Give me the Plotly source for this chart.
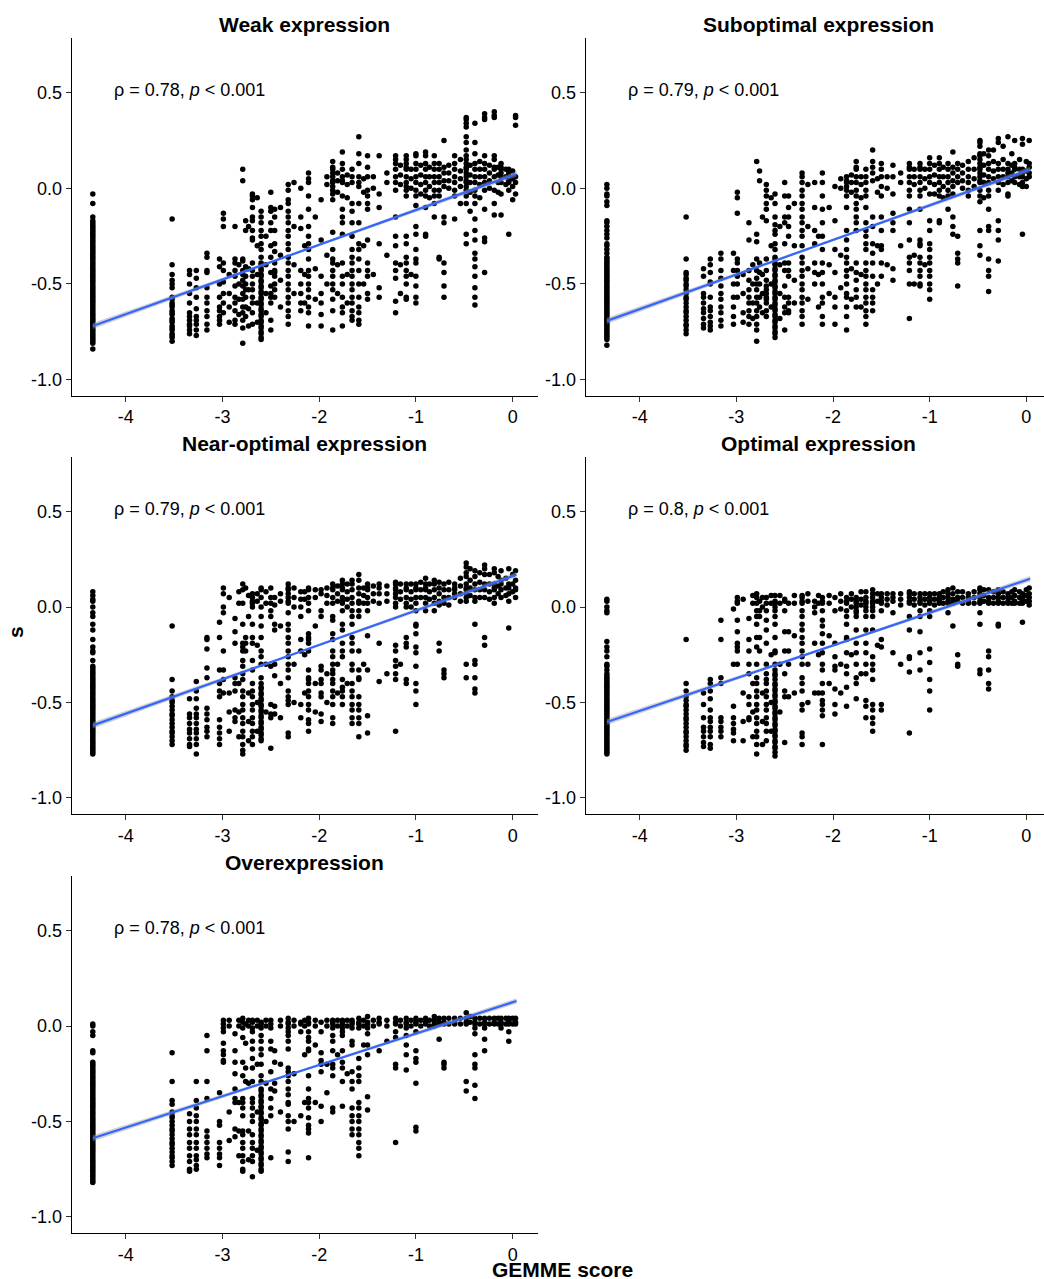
import plotly.graph_objects as go

# ---------------- data ----------------
gemme_columns = [-4.34, -3.52, -3.34, -3.27, -3.16, -3.03, -2.99, -2.87, -2.79, -2.76,
                 -2.69, -2.60, -2.50, -2.46, -2.32, -2.19, -2.11, -1.98, -1.86, -1.76,
                 -1.66, -1.59, -1.50, -1.38, -1.21, -1.10, -1.00, -0.90, -0.81, -0.76,
                 -0.71, -0.60, -0.48, -0.39, -0.29, -0.19, -0.12, -0.04, 0.03]

# further GEMME positions filling the clouds between the main columns
extra_columns = [-2.93, -2.83, -2.73, -2.64, -2.55, -2.40, -2.26, -2.15, -2.04, -1.92,
                 -1.81, -1.71, -1.54, -1.44, -1.30, -1.16, -1.05, -0.95, -0.86, -0.66,
                 -0.54, -0.44, -0.34, -0.24, -0.15, -0.07, 0.00]

weak_s = [
    [-0.03,-0.08,-0.15,-0.17,-0.18,-0.19,-0.20,-0.21,-0.22,-0.23,-0.24,-0.25,-0.26,-0.27,-0.28,-0.29,-0.30,-0.31,-0.32,-0.33,-0.34,-0.35,-0.36,-0.37,-0.38,-0.39,-0.40,-0.41,-0.42,-0.43,-0.44,-0.45,-0.46,-0.47,-0.48,-0.49,-0.50,-0.51,-0.52,-0.53,-0.54,-0.55,-0.56,-0.57,-0.58,-0.59,-0.60,-0.61,-0.62,-0.63,-0.64,-0.65,-0.66,-0.67,-0.68,-0.69,-0.70,-0.71,-0.72,-0.73,-0.74,-0.75,-0.76,-0.77,-0.78,-0.79,-0.80,-0.81,-0.84],
    [-0.16,-0.40,-0.45,-0.48,-0.50,-0.52,-0.57,-0.58,-0.60,-0.61,-0.62,-0.64,-0.65,-0.66,-0.68,-0.69,-0.70,-0.72,-0.73,-0.74,-0.76,-0.77,-0.78,-0.80],
    [-0.43,-0.45,-0.50,-0.55,-0.60,-0.65,-0.67,-0.69,-0.71,-0.72,-0.74,-0.76],
    [-0.43,-0.47,-0.52,-0.57,-0.63,-0.67,-0.69,-0.71,-0.74,-0.77],
    [-0.34,-0.36,-0.43,-0.44,-0.52,-0.57,-0.60,-0.64,-0.67,-0.71,-0.74],
    [-0.37,-0.41,-0.50,-0.57,-0.62,-0.64,-0.67,-0.69,-0.71],
    [-0.13,-0.16,-0.20,-0.39,-0.43,-0.49,-0.55,-0.60,-0.65],
    [-0.20,-0.37,-0.39,-0.43,-0.46,-0.51,-0.57,-0.60,-0.64,-0.69,-0.71],
    [0.10,0.04,-0.37,-0.38,-0.43,-0.45,-0.48,-0.51,-0.55,-0.58,-0.62,-0.65,-0.69,-0.73,-0.81],
    [-0.17,-0.22,-0.41,-0.46,-0.50,-0.53,-0.57,-0.62,-0.67],
    [-0.03,-0.04,-0.06,-0.10,-0.15,-0.17,-0.22,-0.26,-0.27,-0.39,-0.43,-0.46,-0.50,-0.53,-0.57,-0.60,-0.65,-0.71],
    [-0.12,-0.15,-0.18,-0.22,-0.25,-0.29,-0.32,-0.36,-0.39,-0.40,-0.42,-0.43,-0.45,-0.46,-0.48,-0.49,-0.51,-0.52,-0.54,-0.55,-0.57,-0.58,-0.60,-0.61,-0.63,-0.64,-0.66,-0.67,-0.69,-0.70,-0.72,-0.73,-0.75,-0.76,-0.78,-0.79],
    [-0.02,-0.10,-0.12,-0.18,-0.22,-0.30,-0.36,-0.44,-0.51,-0.55,-0.57,-0.60,-0.69,-0.74],
    [-0.11,-0.15,-0.22,-0.29,-0.33,-0.39,-0.43,-0.44,-0.46,-0.50,-0.53,-0.57],
    [0.02,-0.01,-0.06,-0.08,-0.12,-0.15,-0.18,-0.22,-0.25,-0.29,-0.32,-0.36,-0.39,-0.43,-0.46,-0.50,-0.53,-0.57,-0.60,-0.64,-0.67,-0.71],
    [0.00,-0.15,-0.21,-0.43,-0.50,-0.55,-0.60,-0.64],
    [0.08,0.05,0.03,-0.04,-0.11,-0.20,-0.25,-0.29,-0.32,-0.37,-0.43,-0.46,-0.50,-0.53,-0.57,-0.62,-0.65,-0.72],
    [-0.06,-0.27,-0.46,-0.55,-0.60,-0.66,-0.72],
    [0.14,0.11,0.10,0.08,0.06,0.04,0.03,0.01,-0.01,-0.03,-0.06,-0.23,-0.32,-0.37,-0.39,-0.43,-0.46,-0.50,-0.53,-0.58,-0.64,-0.74],
    [0.19,0.13,0.10,0.06,0.04,0.03,-0.04,-0.11,-0.15,-0.18,-0.24,-0.39,-0.46,-0.50,-0.57,-0.62,-0.65,-0.72],
    [0.10,0.06,0.03,-0.08,-0.12,-0.18,-0.25,-0.32,-0.36,-0.39,-0.43,-0.46,-0.50,-0.53,-0.57,-0.60,-0.64,-0.67,-0.69],
    [0.27,0.18,0.13,0.06,0.03,0.01,-0.08,-0.18,-0.29,-0.32,-0.37,-0.43,-0.50,-0.57,-0.62,-0.65,-0.69,-0.71],
    [0.17,0.11,0.06,-0.01,-0.04,-0.08,-0.11,-0.27,-0.39,-0.43,-0.46,-0.55,-0.58],
    [0.17,-0.03,-0.10,-0.29,-0.52,-0.57],
    [0.17,0.15,0.13,0.10,0.06,0.03,-0.01,-0.15,-0.25,-0.30,-0.39,-0.43,-0.47,-0.59,-0.65],
    [0.17,0.15,0.13,0.11,0.10,0.06,0.03,0.01,-0.01,-0.04,-0.25,-0.29,-0.36,-0.39,-0.43,-0.46,-0.50,-0.57,-0.58],
    [0.18,0.17,0.13,0.10,0.06,0.03,-0.01,-0.04,-0.09,-0.20,-0.24,-0.32,-0.37,-0.39,-0.46,-0.51,-0.57,-0.60],
    [0.19,0.17,0.13,0.10,0.06,0.03,-0.01,-0.04,-0.10,-0.24,-0.25],
    [0.17,0.13,0.10,0.06,0.03,-0.01,-0.04,-0.08,-0.15],
    [0.13,0.10,0.06,0.03,-0.01,-0.04,-0.36,-0.37],
    [0.25,0.11,0.08,0.04,0.01,-0.15,-0.18,-0.39,-0.44,-0.51,-0.57],
    [0.17,0.13,0.10,0.06,0.03,-0.01,-0.04,-0.16],
    [0.37,0.36,0.34,0.32,0.27,0.24,0.20,0.17,0.15,0.13,0.11,0.10,0.08,0.06,0.04,0.03,0.01,-0.01,-0.04,-0.08,-0.24,-0.29],
    [0.34,0.24,0.18,0.13,0.10,0.06,0.03,-0.01,-0.04,-0.08,-0.16,-0.22,-0.27,-0.34,-0.37,-0.41,-0.46,-0.52,-0.57,-0.61],
    [0.39,0.37,0.36,0.17,0.13,0.10,0.06,0.03,-0.01,-0.11,-0.26,-0.28,-0.44],
    [0.40,0.38,0.37,0.17,0.15,0.11,0.10,0.06,-0.01,-0.08,-0.14],
    [0.13,0.11,0.10,0.08,0.06,0.03,-0.03,-0.14],
    [0.10,0.08,0.06,0.04,0.03,-0.01,-0.24],
    [0.38,0.37,0.33,0.06,0.03,-0.03],
]
weak_extra_s = [
    [-0.45,-0.55,-0.62,-0.70], [-0.40,-0.50,-0.58,-0.66], [-0.20,-0.42,-0.53,-0.63,-0.72],
    [-0.05,-0.30,-0.45,-0.60,-0.70], [-0.25,-0.40,-0.55,-0.65], [-0.10,-0.35,-0.48,-0.62],
    [0.03,-0.20,-0.40,-0.55], [-0.30,-0.45,-0.60], [-0.15,-0.42,-0.58],
    [0.06,0.02,-0.35,-0.50], [0.08,0.04,-0.02,-0.40,-0.55], [0.07,0.02,-0.05,-0.45,-0.60],
    [0.05,-0.02,-0.30,-0.50], [0.06,0.00,-0.45], [0.08,0.03,-0.35],
    [0.12,0.07,0.02,-0.40,-0.55], [0.10,0.05,0.00,-0.45], [0.12,0.07,0.02,-0.03],
    [0.11,0.06,0.01,-0.05], [0.12,0.08,0.04,0.00], [0.15,0.09,0.05,0.01,-0.08],
    [0.12,0.07,0.03,-0.02,-0.12], [0.14,0.10,0.06,0.02,-0.05], [0.12,0.08,0.04,0.00],
    [0.11,0.07,0.03,-0.02], [0.10,0.06,0.02], [0.09,0.05,0.01,-0.06],
]

suboptimal_s = [
    [0.02,0.00,-0.03,-0.04,-0.07,-0.09,-0.17,-0.18,-0.20,-0.22,-0.24,-0.26,-0.29,-0.30,-0.32,-0.34,-0.36,-0.37,-0.38,-0.39,-0.40,-0.41,-0.42,-0.43,-0.44,-0.45,-0.46,-0.47,-0.48,-0.49,-0.50,-0.51,-0.52,-0.53,-0.54,-0.55,-0.56,-0.57,-0.58,-0.59,-0.60,-0.61,-0.62,-0.63,-0.64,-0.65,-0.66,-0.67,-0.68,-0.69,-0.70,-0.71,-0.72,-0.73,-0.74,-0.75,-0.76,-0.77,-0.78,-0.79,-0.82],
    [-0.15,-0.37,-0.44,-0.45,-0.47,-0.48,-0.50,-0.51,-0.53,-0.55,-0.57,-0.58,-0.60,-0.62,-0.64,-0.65,-0.67,-0.69,-0.71,-0.72,-0.74,-0.76],
    [-0.42,-0.46,-0.55,-0.57,-0.60,-0.63,-0.65,-0.68,-0.71,-0.73],
    [-0.37,-0.40,-0.44,-0.49,-0.50,-0.57,-0.62,-0.64,-0.67,-0.70,-0.72,-0.74],
    [-0.34,-0.37,-0.43,-0.47,-0.51,-0.55,-0.58,-0.62,-0.65,-0.69,-0.72],
    [-0.34,-0.43,-0.50,-0.57,-0.62,-0.67,-0.71],
    [-0.02,-0.05,-0.13,-0.37,-0.39,-0.43,-0.46,-0.50,-0.57],
    [-0.18,-0.27,-0.43,-0.48,-0.53,-0.57,-0.60,-0.64,-0.67,-0.71],
    [0.14,-0.24,-0.28,-0.37,-0.43,-0.47,-0.50,-0.53,-0.57,-0.60,-0.64,-0.67,-0.71,-0.74,-0.80],
    [0.09,0.04,-0.39,-0.44,-0.50,-0.57,-0.62],
    [0.02,-0.01,-0.04,-0.08,-0.11,-0.17,-0.37,-0.43,-0.48,-0.51,-0.53,-0.55,-0.57,-0.58,-0.60,-0.64,-0.67],
    [-0.03,-0.08,-0.15,-0.19,-0.22,-0.24,-0.29,-0.32,-0.36,-0.37,-0.39,-0.40,-0.42,-0.43,-0.45,-0.46,-0.48,-0.49,-0.51,-0.52,-0.54,-0.55,-0.57,-0.58,-0.60,-0.61,-0.63,-0.64,-0.66,-0.67,-0.69,-0.70,-0.72,-0.73,-0.75,-0.76,-0.78],
    [0.03,-0.04,-0.15,-0.18,-0.29,-0.39,-0.43,-0.51,-0.57,-0.62,-0.65,-0.74],
    [-0.04,-0.10,-0.15,-0.20,-0.25,-0.39,-0.43,-0.46,-0.57,-0.60,-0.64,-0.65],
    [0.08,0.06,0.03,-0.01,-0.04,-0.08,-0.11,-0.15,-0.18,-0.22,-0.25,-0.30,-0.36,-0.39,-0.43,-0.46,-0.50,-0.53,-0.57,-0.60,-0.64,-0.67,-0.71],
    [0.03,-0.10,-0.22,-0.29,-0.39,-0.44,-0.50],
    [0.08,0.03,-0.04,-0.11,-0.18,-0.25,-0.32,-0.39,-0.44,-0.50,-0.57,-0.60,-0.67,-0.71],
    [0.01,-0.17,-0.32,-0.44,-0.57,-0.62,-0.71],
    [0.06,0.04,0.03,0.01,-0.01,-0.04,-0.10,-0.22,-0.27,-0.32,-0.36,-0.39,-0.43,-0.46,-0.50,-0.55,-0.57,-0.62,-0.67,-0.74],
    [0.14,0.11,0.10,0.06,0.03,-0.01,-0.04,-0.08,-0.11,-0.15,-0.18,-0.22,-0.39,-0.44,-0.48,-0.53,-0.57,-0.62],
    [0.10,0.06,0.03,-0.01,-0.04,-0.10,-0.18,-0.22,-0.25,-0.29,-0.32,-0.39,-0.43,-0.46,-0.50,-0.53,-0.57,-0.60,-0.64,-0.67,-0.71],
    [0.20,0.14,0.11,0.08,0.04,-0.15,-0.20,-0.29,-0.34,-0.39,-0.46,-0.53,-0.57,-0.60,-0.64],
    [0.13,0.10,0.06,0.01,-0.04,-0.15,-0.22,-0.30,-0.32,-0.39,-0.46],
    [0.12,0.06,-0.03,-0.13,-0.18,-0.22,-0.42,-0.48],
    [0.13,0.11,0.10,0.06,0.03,-0.01,-0.04,-0.11,-0.18,-0.27,-0.36,-0.39,-0.43,-0.50,-0.68],
    [0.13,0.11,0.10,0.06,0.03,-0.01,-0.04,-0.11,-0.27,-0.29,-0.30,-0.36,-0.39,-0.43,-0.46,-0.50,-0.51],
    [0.16,0.13,0.10,0.06,0.03,-0.03,-0.17,-0.22,-0.29,-0.32,-0.36,-0.39,-0.43,-0.46,-0.50,-0.53,-0.58],
    [0.16,0.13,0.10,0.06,0.03,-0.01,-0.04,-0.17,-0.18],
    [0.13,0.10,0.06,0.03,-0.01,-0.04,-0.11],
    [0.19,0.11,0.08,0.04,0.01,-0.03,-0.15,-0.20,-0.24],
    [0.13,0.10,0.06,0.03,-0.25,-0.34,-0.37,-0.39,-0.51],
    [0.14,0.10,0.06,0.03,-0.01,-0.04],
    [0.25,0.24,0.22,0.18,0.17,0.15,0.13,0.11,0.10,0.08,0.06,0.04,0.03,-0.01,-0.04,-0.07,-0.22,-0.30,-0.35],
    [0.20,0.17,0.13,0.10,0.06,0.03,-0.01,-0.04,-0.11,-0.20,-0.22,-0.37,-0.43,-0.46,-0.54],
    [0.26,0.24,0.13,0.10,0.06,0.03,-0.01,-0.17,-0.22,-0.27,-0.38],
    [0.27,0.13,0.10,0.08,0.06,0.03,-0.03,-0.04],
    [0.25,0.13,0.11,0.10,0.06,0.03],
    [0.26,0.23,0.10,0.08,0.06,0.03,0.01,-0.24],
    [0.25,0.13,0.11,0.08,0.06],
]
suboptimal_extra_s = [
    [-0.45,-0.55,-0.65,-0.70], [-0.40,-0.50,-0.60,-0.68], [-0.15,-0.45,-0.55,-0.65],
    [-0.05,-0.30,-0.50,-0.62], [-0.20,-0.40,-0.55,-0.68], [-0.08,-0.30,-0.48,-0.60],
    [0.02,-0.20,-0.42,-0.58], [-0.25,-0.45,-0.62], [-0.10,-0.40,-0.55],
    [0.05,0.00,-0.35,-0.52], [0.07,0.03,-0.02,-0.42,-0.58], [0.06,0.02,-0.05,-0.45,-0.62],
    [0.05,-0.02,-0.30,-0.50], [0.06,0.00,-0.40], [0.08,0.03,-0.30],
    [0.10,0.06,0.02,-0.35,-0.50], [0.10,0.05,0.00,-0.40], [0.12,0.07,0.02,-0.03],
    [0.11,0.06,0.01,-0.05], [0.12,0.08,0.04,0.00], [0.16,0.10,0.05,0.01],
    [0.18,0.12,0.07,0.03,-0.05], [0.20,0.14,0.09,0.05], [0.22,0.15,0.10,0.06,0.02],
    [0.18,0.12,0.08,0.04], [0.15,0.10,0.06,0.02], [0.14,0.09,0.05,0.01],
]

near_optimal_s = [
    [0.08,0.06,0.04,0.03,0.00,-0.03,-0.05,-0.09,-0.12,-0.17,-0.21,-0.23,-0.24,-0.28,-0.31,-0.32,-0.33,-0.34,-0.35,-0.36,-0.37,-0.38,-0.39,-0.40,-0.41,-0.42,-0.43,-0.44,-0.45,-0.46,-0.47,-0.48,-0.49,-0.50,-0.51,-0.52,-0.53,-0.54,-0.55,-0.56,-0.57,-0.58,-0.59,-0.60,-0.61,-0.62,-0.63,-0.64,-0.65,-0.66,-0.67,-0.68,-0.69,-0.70,-0.71,-0.72,-0.73,-0.74,-0.75,-0.76,-0.77],
    [-0.10,-0.38,-0.44,-0.47,-0.49,-0.50,-0.52,-0.54,-0.56,-0.57,-0.59,-0.61,-0.63,-0.65,-0.66,-0.68,-0.70,-0.72],
    [-0.48,-0.56,-0.58,-0.61,-0.64,-0.66,-0.69,-0.72,-0.73],
    [-0.39,-0.44,-0.48,-0.53,-0.56,-0.58,-0.61,-0.64,-0.66,-0.69,-0.72,-0.77],
    [-0.16,-0.17,-0.22,-0.32,-0.37,-0.53,-0.56,-0.59,-0.63,-0.65,-0.68],
    [-0.08,-0.16,-0.33,-0.40,-0.44,-0.47,-0.59,-0.63,-0.66,-0.69,-0.72],
    [0.10,0.07,0.00,-0.03,-0.23,-0.33,-0.38,-0.45],
    [-0.06,-0.13,-0.19,-0.37,-0.40,-0.44,-0.54,-0.58,-0.60],
    [0.12,0.09,0.02,-0.09,-0.19,-0.21,-0.23,-0.28,-0.31,-0.35,-0.38,-0.44,-0.47,-0.51,-0.54,-0.58,-0.61,-0.65,-0.68,-0.72,-0.75,-0.77],
    [0.10,-0.16,-0.19,-0.23],
    [0.07,0.05,0.03,0.02,0.00,-0.09,-0.16,-0.19,-0.28,-0.33,-0.40,-0.44,-0.47,-0.51,-0.54,-0.58,-0.61,-0.65,-0.68,-0.72],
    [0.10,0.09,0.05,0.00,-0.05,-0.10,-0.16,-0.23,-0.26,-0.30,-0.37,-0.40,-0.42,-0.43,-0.45,-0.46,-0.48,-0.49,-0.51,-0.52,-0.54,-0.55,-0.57,-0.58,-0.60,-0.61,-0.63,-0.64,-0.66,-0.67,-0.69,-0.70],
    [0.10,0.05,0.02,-0.02,-0.05,-0.31,-0.51,-0.56,-0.58,-0.74],
    [0.05,0.01,-0.09,-0.12,-0.30,-0.36,-0.52,-0.56],
    [0.12,0.10,0.09,0.07,0.05,0.03,0.02,-0.03,-0.09,-0.12,-0.16,-0.19,-0.23,-0.26,-0.30,-0.33,-0.37,-0.44,-0.47,-0.49,-0.51,-0.66,-0.68],
    [0.08,0.04,0.00,-0.05,-0.17,-0.23,-0.51,-0.58],
    [0.10,0.09,0.05,0.02,-0.02,-0.14,-0.16,-0.17,-0.19,-0.23,-0.33,-0.37,-0.38,-0.40,-0.44,-0.47,-0.51,-0.54,-0.59,-0.61,-0.65],
    [0.09,0.07,-0.02,-0.05,-0.31,-0.33,-0.38,-0.40,-0.45,-0.47,-0.56,-0.60],
    [0.12,0.10,0.09,0.05,0.02,-0.05,-0.07,-0.14,-0.17,-0.23,-0.26,-0.30,-0.33,-0.35,-0.38,-0.40,-0.44,-0.47,-0.51,-0.58,-0.61],
    [0.14,0.12,0.10,0.09,0.05,0.03,0.02,-0.02,-0.09,-0.12,-0.19,-0.23,-0.26,-0.38,-0.42,-0.44,-0.47,-0.51],
    [0.14,0.12,0.09,0.05,0.02,-0.02,-0.05,-0.09,-0.16,-0.19,-0.23,-0.30,-0.33,-0.40,-0.44,-0.47,-0.51,-0.54,-0.58,-0.61],
    [0.17,0.14,0.10,0.07,0.03,0.02,-0.02,-0.05,-0.23,-0.33,-0.37,-0.38,-0.47,-0.51,-0.54,-0.58,-0.61,-0.68],
    [0.12,0.10,0.09,0.05,0.02,-0.02,-0.15,-0.33,-0.57,-0.66],
    [0.12,0.10,0.07,0.02,-0.19,-0.39],
    [0.13,0.12,0.10,0.09,0.07,0.05,0.02,0.00,-0.20,-0.23,-0.28,-0.31,-0.35,-0.38,-0.65],
    [0.12,0.10,0.09,0.05,0.02,0.00,-0.16,-0.19,-0.21,-0.38,-0.40],
    [0.12,0.10,0.09,0.05,0.02,-0.02,-0.09,-0.10,-0.14,-0.21,-0.24,-0.31,-0.40,-0.44,-0.51],
    [0.15,0.12,0.10,0.09,0.05,0.02,-0.02],
    [0.14,0.12,0.09,0.05,0.02,-0.02],
    [0.13,0.10,0.07,0.03,0.01,-0.19,-0.23],
    [0.12,0.09,0.05,0.02,-0.33,-0.35,-0.37],
    [0.12,0.10,0.09,0.07,0.05],
    [0.23,0.21,0.18,0.16,0.12,0.10,0.09,0.07,0.05,0.03,-0.30,-0.37],
    [0.19,0.16,0.12,0.09,0.05,0.03,-0.09,-0.28,-0.30,-0.37,-0.43,-0.45],
    [0.22,0.20,0.17,0.12,0.09,0.05,-0.16,-0.20],
    [0.20,0.18,0.12,0.10,0.09,0.05,0.02],
    [0.19,0.14,0.12,0.09,0.05],
    [0.20,0.12,0.10,0.07,0.03,-0.11],
    [0.19,0.14,0.10,0.09,0.05],
]
near_optimal_extra_s = [
    [0.05,-0.45,-0.55,-0.65], [0.08,0.02,-0.40,-0.55,-0.68], [0.06,-0.05,-0.45,-0.60,-0.70],
    [0.07,0.03,-0.20,-0.50,-0.65], [0.08,0.02,-0.30,-0.55], [0.07,0.03,-0.10,-0.40,-0.58],
    [0.10,0.05,0.00,-0.30,-0.50], [0.08,0.04,-0.25,-0.45], [0.09,0.05,-0.10,-0.40,-0.55],
    [0.10,0.06,0.02,-0.35,-0.50], [0.11,0.07,0.03,-0.30,-0.45], [0.12,0.08,0.04,0.00,-0.40],
    [0.10,0.06,0.02,-0.30], [0.11,0.07,0.03], [0.11,0.07,0.03,-0.35],
    [0.12,0.08,0.04,-0.30], [0.12,0.08,0.04,0.00], [0.13,0.09,0.05],
    [0.12,0.08,0.04], [0.13,0.09,0.05,0.01], [0.15,0.11,0.07,0.03],
    [0.20,0.14,0.10,0.06], [0.18,0.13,0.09,0.05], [0.17,0.12,0.08,0.04],
    [0.16,0.11,0.07], [0.15,0.10,0.06], [0.17,0.12,0.08],
]

optimal_s = [
    [0.04,0.03,0.00,-0.02,-0.03,-0.18,-0.21,-0.23,-0.26,-0.30,-0.31,-0.33,-0.35,-0.36,-0.37,-0.38,-0.39,-0.40,-0.41,-0.42,-0.43,-0.44,-0.45,-0.46,-0.47,-0.48,-0.49,-0.50,-0.51,-0.52,-0.53,-0.54,-0.55,-0.56,-0.57,-0.58,-0.59,-0.60,-0.61,-0.62,-0.63,-0.64,-0.65,-0.66,-0.67,-0.68,-0.69,-0.70,-0.71,-0.72,-0.73,-0.74,-0.75,-0.76,-0.77],
    [-0.17,-0.40,-0.44,-0.47,-0.49,-0.51,-0.52,-0.54,-0.56,-0.58,-0.59,-0.61,-0.63,-0.65,-0.66,-0.68,-0.70,-0.72,-0.73,-0.75],
    [-0.45,-0.51,-0.58,-0.63,-0.65,-0.68,-0.71,-0.73],
    [-0.38,-0.40,-0.44,-0.48,-0.54,-0.58,-0.60,-0.63,-0.65,-0.68,-0.72,-0.74],
    [-0.07,-0.17,-0.37,-0.40,-0.58,-0.60,-0.63,-0.65,-0.68],
    [-0.01,-0.30,-0.52,-0.58,-0.61,-0.64,-0.66,-0.70],
    [0.05,0.03,0.02,-0.07,-0.13,-0.19,-0.21,-0.23,-0.30],
    [-0.06,-0.17,-0.23,-0.30,-0.35,-0.47,-0.51,-0.58,-0.59],
    [0.07,0.05,0.02,-0.02,-0.05,-0.09,-0.16,-0.21,-0.30,-0.37,-0.40,-0.44,-0.47,-0.51,-0.54,-0.58,-0.61,-0.65,-0.68,-0.72,-0.77],
    [0.03,-0.02,-0.05,-0.16,-0.23],
    [0.05,0.02,-0.02,-0.07,-0.12,-0.19,-0.30,-0.35,-0.38,-0.40,-0.44,-0.47,-0.51,-0.54,-0.58,-0.61,-0.65,-0.70],
    [0.06,0.03,0.02,0.00,-0.02,-0.05,-0.09,-0.16,-0.23,-0.24,-0.30,-0.33,-0.35,-0.36,-0.38,-0.40,-0.41,-0.43,-0.44,-0.46,-0.47,-0.49,-0.50,-0.52,-0.53,-0.55,-0.56,-0.58,-0.59,-0.61,-0.62,-0.64,-0.65,-0.67,-0.68,-0.70,-0.71,-0.73,-0.74,-0.76,-0.78],
    [0.04,0.03,-0.02,-0.13,-0.23,-0.35,-0.44,-0.47,-0.71],
    [0.02,-0.13,-0.23,-0.30,-0.47],
    [0.06,0.05,0.03,0.02,-0.02,-0.05,-0.09,-0.12,-0.16,-0.19,-0.23,-0.26,-0.30,-0.37,-0.40,-0.44,-0.51,-0.54,-0.66,-0.68,-0.72],
    [0.03,0.00,-0.03,-0.19,-0.45],
    [0.05,0.03,0.02,-0.02,-0.07,-0.10,-0.14,-0.19,-0.24,-0.30,-0.33,-0.40,-0.45,-0.49,-0.51,-0.54,-0.57,-0.72],
    [0.05,-0.02,-0.19,-0.26,-0.31,-0.33,-0.43,-0.51,-0.56],
    [0.05,0.03,0.02,-0.02,-0.05,-0.09,-0.16,-0.17,-0.24,-0.31,-0.35,-0.42,-0.52],
    [0.05,0.03,0.02,0.00,-0.02,-0.03,-0.05,-0.12,-0.19,-0.24,-0.30,-0.37,-0.40,-0.48],
    [0.08,0.05,0.03,0.02,0.00,-0.02,-0.05,-0.12,-0.19,-0.24,-0.30,-0.35,-0.49,-0.52,-0.58],
    [0.09,0.07,0.05,0.03,0.02,0.00,-0.02,-0.05,-0.12,-0.26,-0.30,-0.33,-0.38,-0.51,-0.54,-0.58,-0.61,-0.65],
    [0.07,0.05,0.03,0.02,-0.02,-0.17,-0.21,-0.51,-0.54],
    [0.07,0.05,0.03,-0.03,-0.24],
    [0.08,0.07,0.05,0.03,0.02,-0.05,-0.12,-0.26,-0.27,-0.34,-0.66],
    [0.07,0.05,0.03,0.02,-0.02,-0.05,-0.13,-0.24,-0.33],
    [0.07,0.05,0.03,0.02,-0.02,-0.05,-0.22,-0.29,-0.38,-0.44,-0.54],
    [0.07,0.05,0.03,0.02],
    [0.09,0.07,0.05,0.03,0.02,-0.03],
    [0.10,0.07,0.04,0.02,-0.10],
    [0.08,0.05,0.03,-0.25,-0.30,-0.31],
    [0.07,0.05,0.03,0.02],
    [0.10,0.09,0.07,0.05,0.03,0.02,-0.03,-0.09,-0.33,-0.35],
    [0.09,0.05,0.03,0.02,-0.23,-0.26,-0.33,-0.40,-0.43],
    [0.09,0.07,0.05,0.03,0.02,-0.09,-0.10],
    [0.07,0.05,0.03,0.02],
    [0.09,0.06,0.03,0.02],
    [0.07,0.05,0.03,0.02,-0.08],
    [0.10,0.07,0.05,0.03,0.01],
]
optimal_extra_s = [
    [0.04,-0.45,-0.60,-0.70], [0.06,0.02,-0.40,-0.55,-0.68], [0.05,0.00,-0.45,-0.60,-0.72],
    [0.06,0.02,-0.25,-0.50,-0.65], [0.06,0.02,-0.30,-0.55], [0.06,0.02,-0.15,-0.45],
    [0.07,0.03,-0.30,-0.50], [0.06,0.02,-0.25,-0.45], [0.06,0.02,-0.15,-0.40],
    [0.07,0.03,-0.01,-0.30,-0.45], [0.07,0.04,0.00,-0.25], [0.08,0.04,0.01,-0.35],
    [0.07,0.03,-0.20], [0.07,0.04,0.01], [0.07,0.04,0.01,-0.30],
    [0.07,0.04,0.01], [0.07,0.04,0.01], [0.07,0.04,0.01],
    [0.08,0.05,0.02], [0.08,0.05,0.02], [0.08,0.05,0.02],
    [0.09,0.06,0.03], [0.08,0.05,0.02], [0.08,0.05,0.02],
    [0.08,0.05,0.02], [0.08,0.05,0.02], [0.09,0.06,0.03],
]

overexpression_s = [
    [0.01,0.00,-0.03,-0.05,-0.13,-0.14,-0.19,-0.20,-0.21,-0.22,-0.23,-0.24,-0.25,-0.26,-0.27,-0.28,-0.29,-0.30,-0.31,-0.32,-0.33,-0.34,-0.35,-0.36,-0.37,-0.38,-0.39,-0.40,-0.41,-0.42,-0.43,-0.44,-0.45,-0.46,-0.47,-0.48,-0.49,-0.50,-0.51,-0.52,-0.53,-0.54,-0.55,-0.56,-0.57,-0.58,-0.59,-0.60,-0.61,-0.62,-0.63,-0.64,-0.65,-0.66,-0.67,-0.68,-0.69,-0.70,-0.71,-0.72,-0.73,-0.74,-0.75,-0.76,-0.77,-0.78,-0.79,-0.80,-0.81,-0.82],
    [-0.14,-0.29,-0.39,-0.41,-0.45,-0.47,-0.48,-0.50,-0.52,-0.54,-0.55,-0.57,-0.59,-0.61,-0.62,-0.64,-0.66,-0.68,-0.69,-0.71,-0.73],
    [-0.46,-0.50,-0.54,-0.57,-0.61,-0.64,-0.68,-0.71,-0.75,-0.76],
    [-0.29,-0.39,-0.43,-0.47,-0.50,-0.54,-0.57,-0.61,-0.64,-0.68,-0.70,-0.73,-0.75],
    [-0.05,-0.13,-0.29,-0.38,-0.55,-0.58,-0.61,-0.64,-0.67,-0.69],
    [-0.35,-0.50,-0.52,-0.61,-0.64,-0.67,-0.69,-0.73],
    [0.03,0.01,-0.01,-0.03,-0.09,-0.13,-0.15,-0.18,-0.19],
    [-0.04,-0.13,-0.19,-0.25,-0.33,-0.38,-0.40,-0.54,-0.58],
    [0.04,0.02,-0.01,-0.06,-0.19,-0.26,-0.38,-0.40,-0.43,-0.47,-0.55,-0.57,-0.61,-0.64,-0.68,-0.71,-0.75,-0.76],
    [0.01,-0.09,-0.22,-0.29],
    [0.03,0.02,-0.01,-0.03,-0.08,-0.12,-0.17,-0.22,-0.29,-0.38,-0.40,-0.43,-0.47,-0.50,-0.57,-0.61,-0.64,-0.68,-0.71,-0.79],
    [0.02,0.01,-0.01,-0.05,-0.08,-0.12,-0.15,-0.20,-0.26,-0.29,-0.33,-0.34,-0.36,-0.37,-0.39,-0.40,-0.42,-0.43,-0.45,-0.46,-0.48,-0.49,-0.51,-0.52,-0.54,-0.55,-0.57,-0.58,-0.60,-0.61,-0.63,-0.64,-0.66,-0.67,-0.69,-0.70,-0.72,-0.73,-0.75,-0.76],
    [0.03,0.01,-0.01,-0.08,-0.12,-0.24,-0.33,-0.38,-0.43,-0.47,-0.69],
    [-0.13,-0.19,-0.30,-0.34],
    [0.04,0.02,0.01,-0.01,-0.03,-0.05,-0.08,-0.12,-0.22,-0.24,-0.26,-0.29,-0.33,-0.36,-0.40,-0.41,-0.47,-0.50,-0.54,-0.66,-0.71],
    [0.02,0.01,-0.03,-0.47],
    [0.04,0.02,0.01,-0.03,-0.06,-0.08,-0.12,-0.13,-0.26,-0.33,-0.38,-0.40,-0.43,-0.48,-0.52,-0.54,-0.56,-0.69],
    [0.02,-0.03,-0.14,-0.18,-0.20,-0.24,-0.42,-0.50],
    [0.03,0.02,0.01,-0.01,-0.05,-0.08,-0.13,-0.20,-0.22,-0.26,-0.43,-0.45],
    [0.03,0.02,0.01,-0.01,-0.03,-0.05,-0.13,-0.19,-0.22,-0.29,-0.42],
    [0.03,0.02,0.01,-0.01,-0.08,-0.10,-0.24,-0.29,-0.33,-0.43,-0.47,-0.50,-0.54,-0.57],
    [0.04,0.02,0.01,-0.01,-0.17,-0.22,-0.26,-0.29,-0.40,-0.43,-0.47,-0.50,-0.54,-0.57,-0.61,-0.64,-0.68],
    [0.05,0.02,0.01,-0.01,-0.04,-0.10,-0.15,-0.37,-0.44],
    [0.04,0.02,0.01,-0.13],
    [0.04,0.02,0.01,-0.03,-0.06,-0.20,-0.22,-0.61],
    [0.04,0.02,0.01,-0.01,-0.05,-0.10,-0.15,-0.23],
    [0.04,0.02,0.01,-0.03,-0.13,-0.17,-0.19,-0.30,-0.53,-0.55],
    [0.04,0.02,0.01],
    [0.05,0.03,0.01,0.00],
    [0.04,0.02,0.01,-0.07],
    [0.04,0.02,0.01,-0.19,-0.20,-0.22],
    [0.04,0.02,0.01],
    [0.07,0.04,0.02,0.01,-0.29,-0.34],
    [0.04,0.02,0.01,-0.01,-0.04,-0.15,-0.20,-0.22,-0.31,-0.38],
    [0.04,0.02,0.01,-0.01,-0.07,-0.13],
    [0.04,0.02,0.01],
    [0.04,0.02,0.01,-0.01],
    [0.04,0.03,0.02,0.01,-0.03,-0.08],
    [0.04,0.02,0.01],
]
overexpression_extra_s = [
    [0.03,0.00,-0.45,-0.60], [0.03,0.00,-0.40,-0.55,-0.68], [0.03,0.00,-0.30,-0.55,-0.70],
    [0.03,0.00,-0.20,-0.45,-0.65], [0.03,0.00,-0.30,-0.50], [0.03,0.00,-0.20,-0.45],
    [0.03,0.00,-0.25,-0.50], [0.03,0.00,-0.15,-0.40], [0.03,0.00,-0.10,-0.40],
    [0.03,0.00,-0.20,-0.35], [0.03,0.00,-0.15], [0.03,0.00,-0.25],
    [0.03,0.00,-0.10], [0.03,0.00], [0.03,0.00,-0.08],
    [0.03,0.00], [0.03,0.00], [0.03,0.00],
    [0.03,0.00], [0.04,0.01], [0.04,0.01],
    [0.05,0.02], [0.04,0.01], [0.04,0.01],
    [0.04,0.01], [0.04,0.01], [0.04,0.01],
]

panel_titles = ["Weak expression", "Suboptimal expression", "Near-optimal expression",
                "Optimal expression", "Overexpression"]
panel_rho = ["0.78", "0.79", "0.79", "0.8", "0.78"]
panel_values = [weak_s, suboptimal_s, near_optimal_s, optimal_s, overexpression_s]
panel_extra_values = [weak_extra_s, suboptimal_extra_s, near_optimal_extra_s,
                      optimal_extra_s, overexpression_extra_s]

# linear-fit line: s at the two ends of the GEMME span
fit_x = [-4.34, 0.04]
fit_s = [[-0.72, 0.075], [-0.693, 0.099], [-0.62, 0.169], [-0.602, 0.148], [-0.588, 0.131]]
band_halfwidth = [0.016, 0.006, 0.014]   # at left end, centre, right end

x_tickvals = [-4, -3, -2, -1, 0]
x_ticktext = ["-4", "-3", "-2", "-1", "0"]
y_tickvals = [-1.0, -0.5, 0.0, 0.5]
y_ticktext = ["-1.0", "-0.5", "0.0", "0.5"]

# ---------------- layout geometry ----------------
W, H = 1044, 1279
col_dom = [[71.7 / W, 538 / W], [585.7 / W, 1.0]]
row_dom = [[1 - 395.7 / H, 1 - 38.3 / H], [1 - 814 / H, 1 - 457.3 / H], [1 - 1233 / H, 1 - 876.3 / H]]
x_ranges = [[-4.558, 0.262], [-4.559, 0.183]]
y_range = [-1.084, 0.784]
title_centers = [(71.7 + 538) / 2 / W, (585.7 + 1051) / 2 / W]

FONT = "Liberation Sans, Arial, Helvetica, sans-serif"

fig = go.Figure()
annotations = []
layout_axes = {}

for i in range(5):
    r, c = divmod(i, 2)
    ax = "" if i == 0 else str(i + 1)
    xs, ys = [], []
    for cols, vals in ((gemme_columns, panel_values[i]), (extra_columns, panel_extra_values[i])):
        for gx, col in zip(cols, vals):
            for v in col:
                xs.append(gx)
                ys.append(v)
    fig.add_trace(go.Scatter(x=xs, y=ys, mode="markers", xaxis="x" + ax, yaxis="y" + ax,
                             marker=dict(color="black", size=5.5, line=dict(width=0)),
                             showlegend=False, hoverinfo="skip"))
    # confidence band + fitted line
    x0, x1 = fit_x
    y0, y1 = fit_s[i]
    bx = [x0, (x0 + x1) / 2, x1]
    by = [y0, (y0 + y1) / 2, y1]
    upper = [b + h for b, h in zip(by, band_halfwidth)]
    lower = [b - h for b, h in zip(by, band_halfwidth)]
    fig.add_trace(go.Scatter(x=bx + bx[::-1], y=upper + lower[::-1], fill="toself",
                             fillcolor="rgba(153,153,153,0.45)", line=dict(width=0),
                             mode="lines", xaxis="x" + ax, yaxis="y" + ax,
                             showlegend=False, hoverinfo="skip"))
    fig.add_trace(go.Scatter(x=fit_x, y=fit_s[i], mode="lines", xaxis="x" + ax, yaxis="y" + ax,
                             line=dict(color="#3366FF", width=2.2),
                             showlegend=False, hoverinfo="skip"))

    common = dict(showline=True, linecolor="black", linewidth=1, ticks="outside", ticklen=5,
                  tickwidth=1, tickcolor="#333333", showgrid=False, zeroline=False,
                  tickfont=dict(family=FONT, size=18, color="black"))
    layout_axes["xaxis" + ax] = dict(domain=col_dom[c], range=x_ranges[c], anchor="y" + ax,
                                     tickmode="array", tickvals=x_tickvals, ticktext=x_ticktext,
                                     **common)
    layout_axes["yaxis" + ax] = dict(domain=row_dom[r], range=y_range, anchor="x" + ax,
                                     tickmode="array", tickvals=y_tickvals, ticktext=y_ticktext,
                                     **common)
    annotations.append(dict(x=title_centers[c], y=row_dom[r][1], xref="paper", yref="paper",
                            yshift=14, text="<b>" + panel_titles[i] + "</b>", showarrow=False,
                            xanchor="center", yanchor="middle",
                            font=dict(family=FONT, size=21, color="black")))
    annotations.append(dict(x=-4.14, y=0.515, xref="x" + ax, yref="y" + ax,
                            text="\u03c1 = " + panel_rho[i] + ", <i>p</i> &lt; 0.001",
                            showarrow=False, xanchor="left", yanchor="middle",
                            font=dict(family=FONT, size=18, color="black")))

annotations.append(dict(x=562 / W, y=1 - 1269 / H, xref="paper", yref="paper",
                        text="<b>GEMME score</b>", showarrow=False, xanchor="center",
                        yanchor="middle", borderpad=0,
                        font=dict(family=FONT, size=21, color="black")))
annotations.append(dict(x=15 / W, y=1 - 632 / H, xref="paper", yref="paper",
                        text="<b>s</b>", showarrow=False, textangle=-90, xanchor="center",
                        yanchor="middle", font=dict(family=FONT, size=21, color="black")))

fig.update_layout(width=W, height=H, autosize=False, margin=dict(l=0, r=0, t=0, b=0),
                  plot_bgcolor="white", paper_bgcolor="white", annotations=annotations,
                  **layout_axes)

fig.write_html("out.html")
